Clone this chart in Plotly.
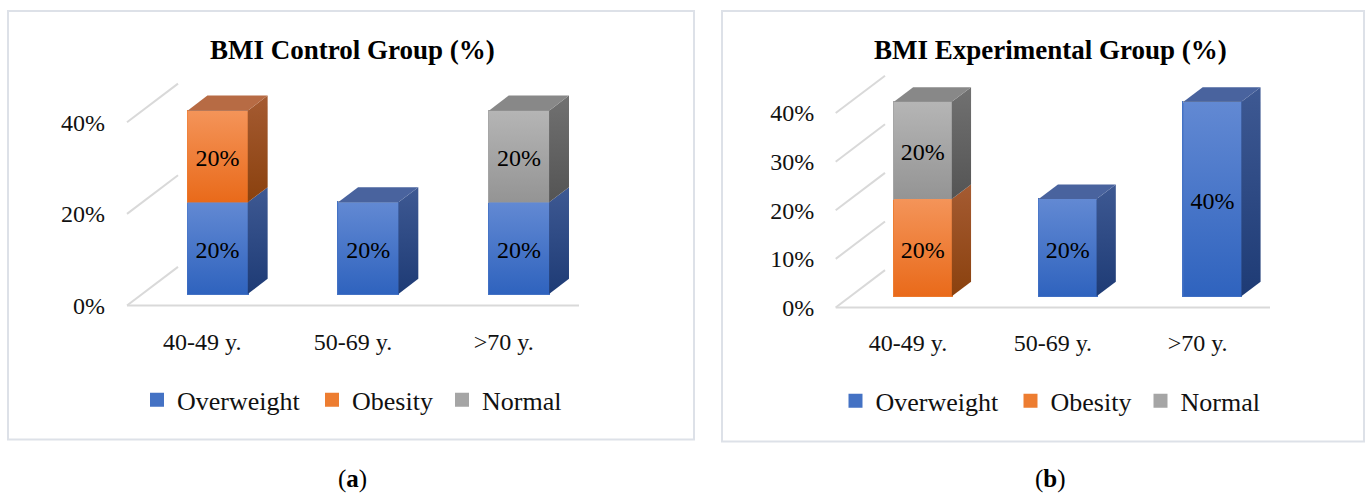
import plotly.graph_objects as go

FIG_W, FIG_H = 1366, 496
FONT = "Liberation Serif, DejaVu Serif, serif"

# ---- data -----------------------------------------------------------------
categories = ["40-49 y.", "50-69 y.", ">70 y."]
series_names = ["Overweight", "Obesity", "Normal"]

control_overweight = [20, 20, 20]
control_obesity = [20, 0, 0]
control_normal = [0, 0, 20]

experimental_overweight = [0, 20, 40]
experimental_obesity = [20, 0, 0]
experimental_normal = [20, 0, 0]

control_ticks = [0, 20, 40]
experimental_ticks = [0, 10, 20, 30, 40]

# ---- styling ----------------------------------------------------------------
# (bottom, top) gradient stops for each face of the pseudo-3D columns
FACES = {
    "Overweight": dict(base="#4472c4", front=("#2f63be", "#6289d3"),
                       side=("#1e3b75", "#3e5993"), top="#49639e"),
    "Obesity": dict(base="#ed7d31", front=("#e96a1a", "#f49459"),
                    side=("#8a410e", "#a55b32"), top="#b76b44"),
    "Normal": dict(base="#a5a5a5", front=("#949494", "#b5b5b5"),
                   side=("#545454", "#717171"), top="#888888"),
}
LEGEND_WIDTHS = {"Overweight": 130, "Obesity": 85, "Normal": 90}
GRID = "#d9d9d9"
LABEL_SIZE = 24

BAR_WIDTH = 0.4     # share of a category slot
BAR_T0 = 0.3        # depth of the column front face (fraction of floor depth)
BAR_DEPTH = 0.39    # column thickness (fraction of floor depth)
LABEL_DROP_PX = 4   # value labels sit slightly below the segment middle
XR = [-0.6, 2.6]
YR = [-2, 50]

PANELS = [
    dict(title="BMI Control Group (%)", tag="a",
         values=(control_overweight, control_obesity, control_normal),
         ticks=control_ticks, box=(8, 11, 694, 443),
         x_left=127, x_right=579, y_zero=308, ppu=4.6175, depth=(51, 39),
         title_xy=(352, 50), legend_xy=(137, 403), tag_xy=(352, 483),
         xstandoff=10, ystandoff=6),
    dict(title="BMI Experimental Group (%)", tag="b",
         values=(experimental_overweight, experimental_obesity, experimental_normal),
         ticks=experimental_ticks, box=(722, 11, 1364, 445),
         x_left=835.7, x_right=1270, y_zero=310, ppu=4.9, depth=(49.3, 37.7),
         title_xy=(1050, 50), legend_xy=(835.5, 404), tag_xy=(1050, 483),
         xstandoff=9, ystandoff=6),
]


def sfx(k):
    return "" if k == 1 else str(k)


def domains(P, shift, xr, yr):
    slot = (P["x_right"] - P["x_left"]) / len(categories)
    sx, sy = shift

    def px(u):
        return P["x_left"] + (u + 0.5) * slot + sx

    def py(v):
        return P["y_zero"] - v * P["ppu"] - sy

    xd = [px(xr[0]) / FIG_W, px(xr[1]) / FIG_W]
    yd = [1 - py(yr[0]) / FIG_H, 1 - py(yr[1]) / FIG_H]
    return xd, yd


fig = go.Figure()
layout = dict(annotations=[], shapes=[])

for p, P in enumerate(PANELS):
    back, front, bars = 3 * p + 1, 3 * p + 2, 3 * p + 3
    legend_id = "legend" + ("" if p == 0 else str(p + 1))
    slot = (P["x_right"] - P["x_left"]) / len(categories)
    ppu = P["ppu"]
    ddx, ddy = P["depth"]

    # back wall: horizontal gridlines
    xd, yd = domains(P, (ddx, ddy), [-0.5, 2.5], YR)
    layout["xaxis" + sfx(back)] = dict(domain=xd, range=[-0.5, 2.5], anchor="y" + sfx(back),
                                       showgrid=False, zeroline=False, showticklabels=False,
                                       showline=False, ticks="")
    layout["yaxis" + sfx(back)] = dict(domain=yd, range=YR, anchor="x" + sfx(back),
                                       tickvals=P["ticks"], showgrid=True, gridcolor=GRID,
                                       gridwidth=2, zeroline=False, showticklabels=False,
                                       showline=False, ticks="")

    # front plane: tick labels, side-wall diagonals, floor edge
    xd, yd = domains(P, (0, 0), XR, YR)
    layout["xaxis" + sfx(front)] = dict(domain=xd, range=XR, anchor="y" + sfx(front),
                                        tickvals=list(range(len(categories))), ticktext=categories,
                                        showgrid=False, zeroline=False, showline=False, ticks="",
                                        ticklabelstandoff=P["xstandoff"],
                                        tickfont=dict(family=FONT, size=LABEL_SIZE, color="#111"))
    layout["yaxis" + sfx(front)] = dict(domain=yd, range=YR, anchor="x" + sfx(front),
                                        tickvals=P["ticks"], ticktext=[f"{v}%" for v in P["ticks"]],
                                        showgrid=False, zeroline=False, showline=False, ticks="",
                                        ticklabelstandoff=P["ystandoff"],
                                        tickfont=dict(family=FONT, size=LABEL_SIZE, color="#111"))
    wx, wy = [], []
    for v in P["ticks"]:
        wx += [-0.5, -0.5 + ddx / slot, None]
        wy += [v, v + ddy / ppu, None]
    wx += [-0.5, len(categories) - 0.5]
    wy += [0, 0]
    fig.add_trace(go.Scatter(x=wx, y=wy, mode="lines", line=dict(color=GRID, width=2),
                             hoverinfo="skip", showlegend=False,
                             xaxis="x" + sfx(front), yaxis="y" + sfx(front)))

    # columns
    xd, yd = domains(P, (BAR_T0 * ddx, BAR_T0 * ddy), XR, YR)
    layout["xaxis" + sfx(bars)] = dict(domain=xd, range=XR, anchor="y" + sfx(bars), visible=False)
    layout["yaxis" + sfx(bars)] = dict(domain=yd, range=YR, anchor="x" + sfx(bars), visible=False)
    xa, ya = "x" + sfx(bars), "y" + sfx(bars)
    xs = list(range(len(categories)))

    for name, vals in zip(series_names, P["values"]):
        base_c = FACES[name]["base"]
        fig.add_trace(go.Bar(x=xs, y=vals, name=name,
                             marker=dict(color=base_c, line=dict(width=2, color=base_c)),
                             legend=legend_id, legendwidth=LEGEND_WIDTHS[name],
                             hoverinfo="skip", xaxis=xa, yaxis=ya))

    sdx = BAR_DEPTH * ddx / slot
    sdy = BAR_DEPTH * ddy / ppu
    hw = BAR_WIDTH / 2
    lab_x, lab_y, lab_t = [], [], []
    for i in xs:
        base = 0
        segs = []
        for name, vals in zip(series_names, P["values"]):
            if vals[i] > 0:
                segs.append((name, base, base + vals[i], vals[i]))
                base += vals[i]
        for k, (name, lo, hi, v) in enumerate(segs):
            c = FACES[name]
            # front face shading
            fig.add_trace(go.Scatter(
                x=[i - hw, i + hw, i + hw, i - hw, i - hw], y=[lo, lo, hi, hi, lo],
                mode="lines", line=dict(width=0), fill="toself",
                fillgradient=dict(type="vertical", colorscale=[[0, c["front"][0]], [1, c["front"][1]]]),
                hoverinfo="skip", showlegend=False, xaxis=xa, yaxis=ya))
            # right side face
            fig.add_trace(go.Scatter(
                x=[i + hw, i + hw + sdx, i + hw + sdx, i + hw, i + hw],
                y=[lo, lo + sdy, hi + sdy, hi, lo],
                mode="lines", line=dict(width=0), fill="toself",
                fillgradient=dict(type="vertical", colorscale=[[0, c["side"][0]], [1, c["side"][1]]]),
                hoverinfo="skip", showlegend=False, xaxis=xa, yaxis=ya))
            # top face of the stack
            if k == len(segs) - 1:
                fig.add_trace(go.Scatter(
                    x=[i - hw, i + hw, i + hw + sdx, i - hw + sdx, i - hw],
                    y=[hi, hi, hi + sdy, hi + sdy, hi],
                    mode="lines", line=dict(width=0), fill="toself", fillcolor=c["top"],
                    hoverinfo="skip", showlegend=False, xaxis=xa, yaxis=ya))
            lab_x.append(i)
            lab_y.append((lo + hi) / 2 - LABEL_DROP_PX / ppu)
            lab_t.append(f"{v}%")
    fig.add_trace(go.Scatter(x=lab_x, y=lab_y, text=lab_t, mode="text", textposition="middle center",
                             textfont=dict(family=FONT, size=LABEL_SIZE, color="#000"),
                             hoverinfo="skip", showlegend=False, xaxis=xa, yaxis=ya))

    # legend
    lx, ly = P["legend_xy"]
    layout[legend_id] = dict(orientation="h", x=lx / FIG_W, xanchor="left", y=1 - ly / FIG_H,
                             yanchor="middle", bgcolor="rgba(0,0,0,0)", borderwidth=0,
                             font=dict(family=FONT, size=26, color="#111"),
                             entrywidthmode="pixels", itemwidth=30, traceorder="normal",
                             itemclick=False, itemdoubleclick=False)

    # titles, panel tag, frame
    tx, ty = P["title_xy"]
    layout["annotations"].append(dict(text=f"<b>{P['title']}</b>", x=tx / FIG_W, y=1 - ty / FIG_H,
                                      xref="paper", yref="paper", xanchor="center", yanchor="middle",
                                      showarrow=False, font=dict(family=FONT, size=27, color="#000")))
    gx, gy = P["tag_xy"]
    layout["annotations"].append(dict(text=f"(<b>{P['tag']}</b>)", x=gx / FIG_W, y=1 - gy / FIG_H,
                                      xref="paper", yref="paper", xanchor="center", yanchor="middle",
                                      showarrow=False, font=dict(family=FONT, size=25, color="#000")))
    bx0, by0, bx1, by1 = P["box"]
    layout["shapes"].append(dict(type="rect", xref="paper", yref="paper",
                                 x0=bx0 / FIG_W, x1=bx1 / FIG_W, y0=1 - by1 / FIG_H, y1=1 - by0 / FIG_H,
                                 line=dict(color="#dde1e8", width=2), fillcolor="rgba(0,0,0,0)",
                                 layer="below"))

fig.update_layout(
    width=FIG_W, height=FIG_H, margin=dict(l=0, r=0, t=0, b=0),
    paper_bgcolor="white", plot_bgcolor="rgba(0,0,0,0)",
    barmode="stack", bargap=1 - BAR_WIDTH,
    **layout,
)

fig.write_html("out.html")
